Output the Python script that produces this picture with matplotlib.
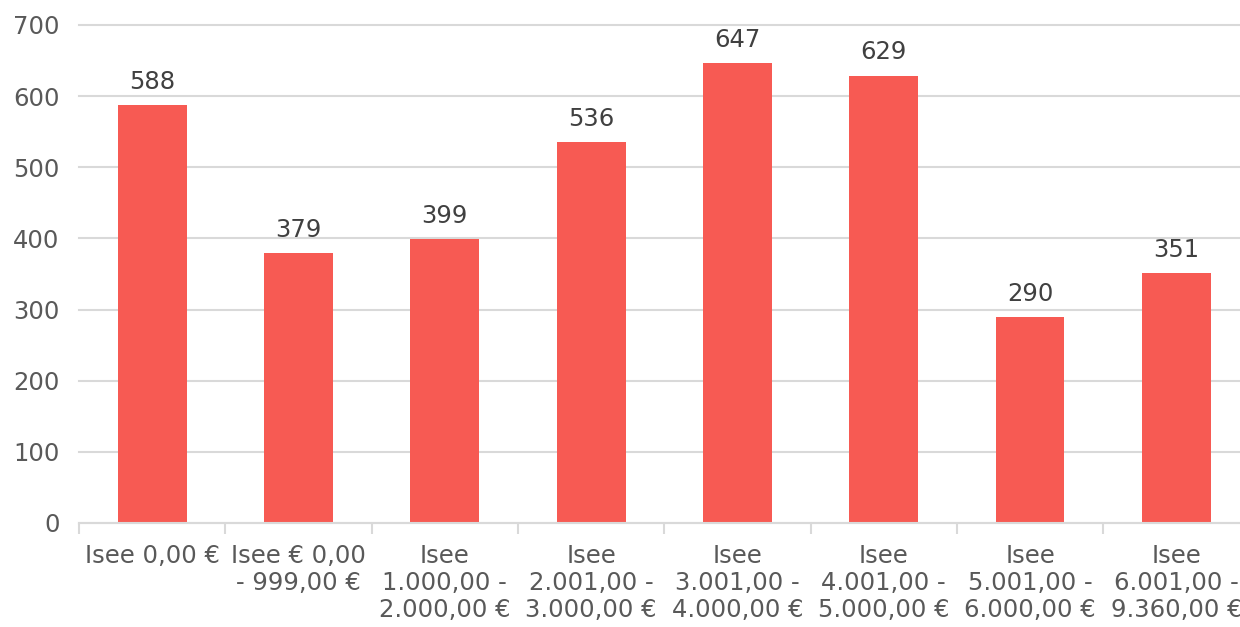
import numpy as np
import matplotlib
matplotlib.use("Agg")
import matplotlib.pyplot as plt

categories = [
    "Isee 0,00 €",
    "Isee € 0,00\n- 999,00 €",
    "Isee\n1.000,00 -\n2.000,00 €",
    "Isee\n2.001,00 -\n3.000,00 €",
    "Isee\n3.001,00 -\n4.000,00 €",
    "Isee\n4.001,00 -\n5.000,00 €",
    "Isee\n5.001,00 -\n6.000,00 €",
    "Isee\n6.001,00 -\n9.360,00 €",
]
values = [588, 379, 399, 536, 647, 629, 290, 351]
y_ticks = [0, 100, 200, 300, 400, 500, 600, 700]

bar_color = "#F75A53"
grid_color = "#D9D9D9"
tick_color = "#595959"
label_color = "#404040"

plt.rcParams["font.family"] = ["DejaVu Sans"]

fig = plt.figure(figsize=(12.4, 6.27), dpi=100)
ax = fig.add_axes([79 / 1240, 104 / 627, 1170.6 / 1240, 498 / 627])

x = np.arange(len(categories))
ax.bar(x, values, width=0.47, color=bar_color, zorder=3)

for xi, v in zip(x, values):
    ax.annotate(str(v), (xi, v), xytext=(0, 8), textcoords="offset points",
                ha="center", va="bottom", fontsize=17.5, color=label_color)

ax.set_xlim(-0.5, len(categories) - 0.5)
ax.set_ylim(0, 700)
ax.set_yticks(y_ticks)
ax.set_yticklabels([str(t) for t in y_ticks])

# category borders for tick marks, labels at centers
ax.set_xticks(np.arange(len(categories) + 1) - 0.5)
ax.set_xticklabels([])
ax.set_xticks(x, minor=True)
ax.set_xticklabels(categories, minor=True, fontsize=17.5, color=tick_color,
                   linespacing=1.15, ha="center")
ax.tick_params(axis="x", which="minor", length=0, pad=15)
ax.tick_params(axis="x", which="major", length=8, width=1.5, color=grid_color)
ax.tick_params(axis="y", length=0, labelsize=17.5, labelcolor=tick_color, pad=14)

ax.grid(axis="y", color=grid_color, linewidth=1.5, zorder=0)
for gl in ax.get_ygridlines():
    gl.set_clip_on(False)
for s in ["top", "right", "left"]:
    ax.spines[s].set_visible(False)
ax.spines["bottom"].set_color(grid_color)
ax.spines["bottom"].set_linewidth(1.5)
ax.spines["bottom"].set_zorder(4)

fig.savefig("out.png", dpi=100)
